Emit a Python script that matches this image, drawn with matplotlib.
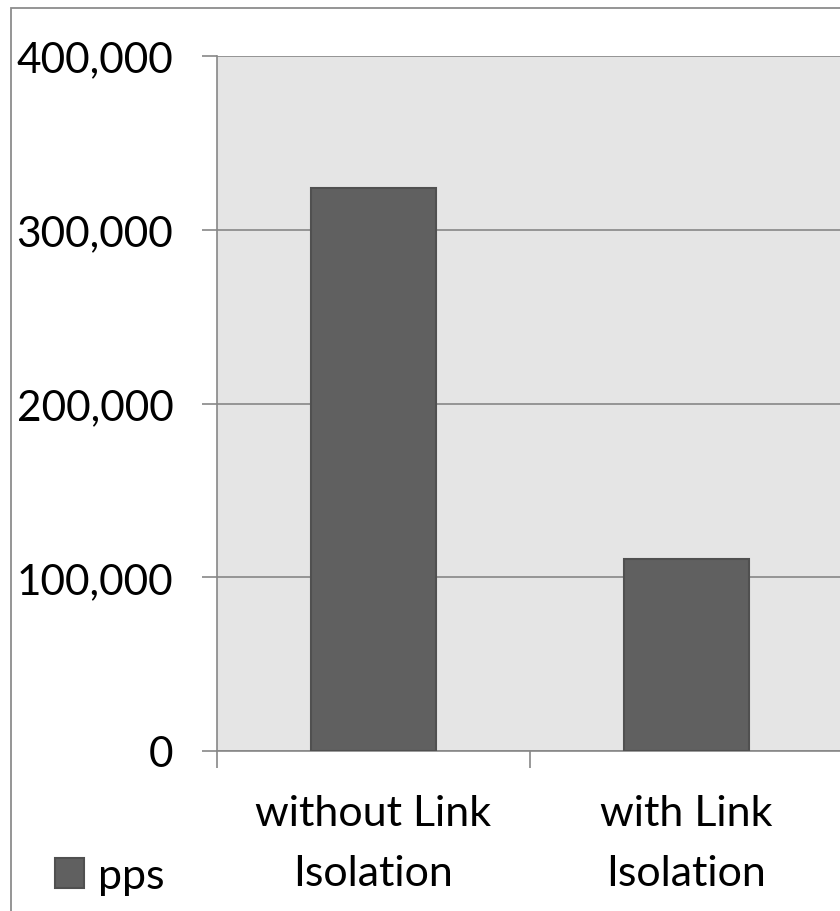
import numpy as np
import matplotlib.pyplot as plt
from matplotlib.patches import Rectangle
from matplotlib.ticker import FuncFormatter

categories = ['without Link\nIsolation', 'with Link\nIsolation']
pps = [324000, 110500]
yticks = [0, 100000, 200000, 300000, 400000]

plt.rcParams['font.family'] = ['Lato', 'DejaVu Sans']

W, H = 840, 912
fig = plt.figure(figsize=(W / 100, H / 100), dpi=100)

# outer chart border (cropped on the right and bottom)
fig.patches.append(Rectangle((11 / W, -0.1), 1.2, (H - 9) / H + 0.1,
                             transform=fig.transFigure, fill=False,
                             edgecolor='#8c8c8c', linewidth=1.3))

ax = fig.add_axes([217 / W, (H - 752) / H, 626 / W, 695 / H])
ax.set_facecolor('#e5e5e5')

x = np.arange(len(categories))
ax.bar(x, pps, width=0.4, color='#606060', edgecolor='#505050',
       linewidth=1.5, zorder=3, label='pps')

ax.set_xlim(-0.5, len(categories) - 0.5)
ax.set_ylim(0, 400000)
ax.set_yticks(yticks)
ax.yaxis.set_major_formatter(FuncFormatter(lambda v, p: f'{int(v):,}'))
ax.grid(axis='y', color='#878787', linewidth=1.2, zorder=1)

ax.set_xticks(np.arange(len(categories) + 1) - 0.5)
ax.set_xticklabels([])
ax.set_xticks(x, minor=True)
ax.set_xticklabels(categories, minor=True, fontsize=31, linespacing=1.7)

for s in ['top', 'right']:
    ax.spines[s].set_visible(False)
for s in ['left', 'bottom']:
    ax.spines[s].set_color('#878787')
    ax.spines[s].set_linewidth(1.2)

ax.tick_params(axis='y', length=10.5, width=1.2, color='#878787',
               labelsize=30.5, pad=21)
ax.tick_params(axis='x', which='major', length=12, width=1.2, color='#878787')
ax.tick_params(axis='x', which='minor', length=0, labelsize=31, pad=31)

fig.legend(loc='center left', bbox_to_anchor=(55 / W, (H - 877) / H),
           frameon=False, fontsize=31, handlelength=0.67, handleheight=0.67,
           handletextpad=0.34, borderpad=0, borderaxespad=0)

fig.savefig('out.png', dpi=100)
